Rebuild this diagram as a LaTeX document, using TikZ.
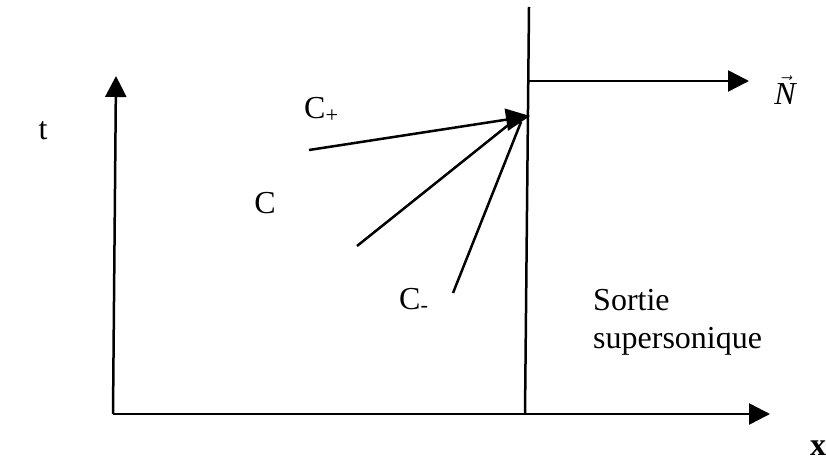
\documentclass[tikz,border=0pt]{standalone}
\usepackage{fontspec}
\setmainfont{Liberation Serif}
\usepackage{tikz}
\usetikzlibrary{positioning, arrows.meta}

\begin{document}
\begin{tikzpicture}[
        x=1pt, y=-1pt,
        axis/.style={line width=2.5pt, -{Triangle[length=21pt, width=21pt]}},
        charac/.style={line width=2.5pt},
        lbl/.style={font=\fontsize{32}{38}\selectfont, inner sep=0pt, anchor=base},
    ]
    \useasboundingbox (0,0) rectangle (826,461);

    % === AXES ===
    \coordinate (o) at (113,414);
    \coordinate (tend) at (116,76);
    \coordinate (xend) at (770,414);
    \draw[axis] (o) -- (tend);
    \draw[axis] (o) -- (xend);

    % Frontier and normal
    \coordinate (ftop) at (529,7);
    \coordinate (fbot) at (525,414);
    \draw[charac] (ftop) -- (fbot);
    \coordinate (nstart) at (528,81);
    \coordinate (nend) at (749,81);
    \draw[axis] (nstart) -- (nend);

    % === CHARACTERISTICS ===
    \coordinate (p) at (530,116);
    \coordinate (cpfoot) at (309,150);
    \coordinate (cfoot) at (357,246);
    \coordinate (cmfoot) at (453,293);
    \coordinate (chead) at (512,122);
    \coordinate (cmhead) at (521,122);
    \draw[charac, -{Triangle[length=24pt, width=22pt]}] (cpfoot) -- (p);
    \draw[charac] (cfoot) -- (chead);
    \draw[charac] (cmfoot) -- (cmhead);

    % Labels
    \node[lbl] (tlab) at (43,139) {t};
    \node[lbl] (xlab) at (818,455) {\textbf{x}};
    \node[lbl] (nlab) at (785,104) {$\vec{\textit{N}}$};
    \node[lbl, anchor=base west] (cplab) at (304,118) {C\textsubscript{+}};
    \node[lbl] (clab) at (265,213) {C};
    \node[lbl, anchor=base west] (cmlab) at (399,309) {C\textsubscript{-}};
    \node[lbl, anchor=base west] (sortie) at (593,310) {Sortie};
    \node[lbl, anchor=base west] (superson) at (593,348) {supersonique};

\end{tikzpicture}
\end{document}
